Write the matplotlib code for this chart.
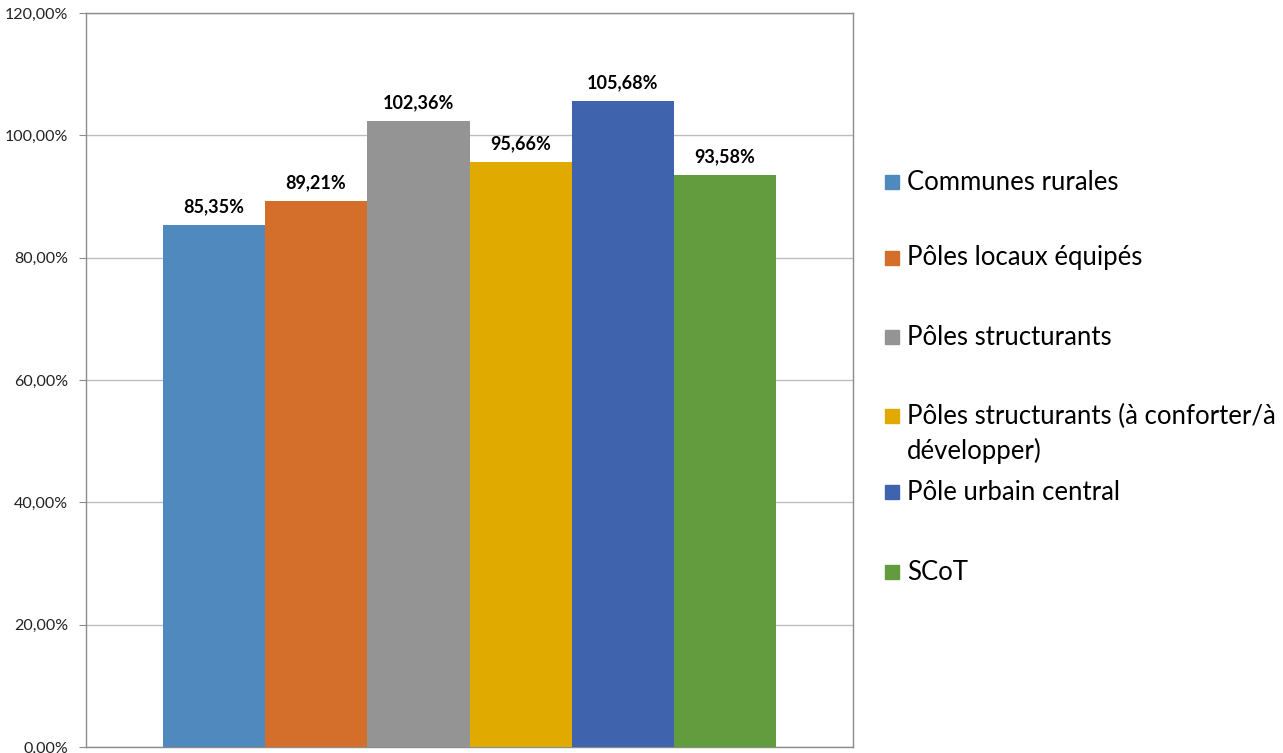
import matplotlib.pyplot as plt
from matplotlib.patches import Rectangle
from matplotlib.ticker import FuncFormatter

# Valeurs par typologie de communes (en %)
categories = [
    'Communes rurales',
    'Pôles locaux équipés',
    'Pôles structurants',
    'Pôles structurants (à conforter/à\ndévelopper)',
    'Pôle urbain central',
    'SCoT',
]
valeurs = [85.35, 89.21, 102.36, 95.66, 105.68, 93.58]
couleurs = ['#4F89BE', '#D36E2B', '#949494', '#E1AA00', '#3F64AD', '#639B3F']
legende_y = [182, 258, 337, 416, 492, 572]  # position des entrées (pixels depuis le haut)

plt.rcParams['font.family'] = ['Lato', 'DejaVu Sans']

fig = plt.figure(figsize=(12.83, 7.53), dpi=100)
W, H = 1283, 753
ax = fig.add_axes([86 / W, 6 / H, (853 - 86) / W, (747 - 13) / H])

x = list(range(len(valeurs)))
ax.bar(x, valeurs, width=1.0, color=couleurs, zorder=3)
for xi, v in zip(x, valeurs):
    ax.annotate(f'{v:.2f}%'.replace('.', ','), (xi, v), xytext=(0, 7),
                textcoords='offset points', ha='center', va='bottom',
                fontsize=13, fontweight='bold', color='black')

ax.set_xlim(-1.25, 6.25)
ax.set_ylim(0, 120)
ax.set_yticks(range(0, 121, 20))
ax.yaxis.set_major_formatter(FuncFormatter(lambda v, p: f'{v:.2f}%'.replace('.', ',')))
ax.tick_params(axis='y', labelsize=11.5, length=5, color='#8C8C8C', pad=8, labelcolor='#222222')
ax.set_xticks([])
ax.grid(axis='y', color='#BEBEBE', linewidth=1, zorder=0)
for s in ax.spines.values():
    s.set_color('#8C8C8C')
    s.set_linewidth(1)

# Légende dessinée à droite du graphique
for lab, col, yp in zip(categories, couleurs, legende_y):
    fig.patches.append(Rectangle((885 / W, 1 - (yp + 7) / H), 14 / W, 14 / H,
                                 transform=fig.transFigure, color=col))
    for i, ligne in enumerate(lab.split('\n')):
        fig.text(907 / W, 1 - (yp + 35 * i) / H, ligne, fontsize=18.5,
                 va='center', ha='left', color='black')

fig.savefig('out.png', dpi=100)
